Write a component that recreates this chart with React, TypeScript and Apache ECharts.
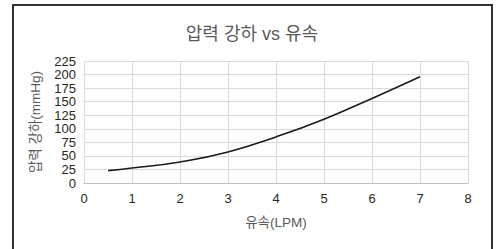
import React, { useEffect, useRef } from "react";
import * as echarts from "echarts";

const flowLPM = [0.5, 1, 2, 3, 4, 5, 6, 7];
const pressureDrop = [22.8, 27.7, 38.8, 57.3, 85, 117.7, 156, 196];
const titleText = "압력 강하 vs 유속";
const xName = "유속(LPM)";
const yName = "압력 강하(mmHg)";

const FONT = "'Liberation Sans', Arial, 'Noto Sans CJK KR', sans-serif";

export default function App() {
  const ref = useRef<HTMLDivElement>(null);
  useEffect(() => {
    if (!ref.current) return;
    const chart = echarts.init(ref.current, undefined, { renderer: "svg" });
    chart.setOption({
      animation: false,
      backgroundColor: "#ffffff",
      title: {
        text: titleText,
        left: 247,
        top: 20,
        textAlign: "center",
        textStyle: { fontFamily: FONT, fontSize: 18, fontWeight: "normal", color: "#595959" },
      },
      graphic: [
        {
          type: "rect",
          shape: { x: 13, y: 5, width: 479, height: 270 },
          style: { fill: "none", stroke: "#333333", lineWidth: 2 },
          silent: true,
        },
      ],
      grid: { left: 84, right: 30, top: 61, bottom: 66 },
      xAxis: {
        type: "value",
        min: 0,
        max: 8,
        interval: 1,
        name: xName,
        nameLocation: "middle",
        nameGap: 33,
        nameTextStyle: { fontFamily: FONT, fontSize: 13.5, color: "#595959" },
        axisLine: { show: true, lineStyle: { color: "#bfbfbf", width: 1 } },
        axisTick: { show: false },
        axisLabel: { fontFamily: FONT, fontSize: 13, color: "#262626", margin: 9 },
        splitLine: { show: true, lineStyle: { color: "#d9d9d9", width: 1 } },
      },
      yAxis: {
        type: "value",
        min: 0,
        max: 225,
        interval: 25,
        name: yName,
        nameLocation: "middle",
        nameGap: 42,
        nameTextStyle: { fontFamily: FONT, fontSize: 13.5, color: "#595959" },
        axisLine: { show: true, lineStyle: { color: "#d9d9d9", width: 1 } },
        axisTick: { show: false },
        axisLabel: { fontFamily: FONT, fontSize: 13, color: "#262626", margin: 8 },
        splitLine: { show: true, lineStyle: { color: "#d9d9d9", width: 1 } },
      },
      series: [
        {
          type: "line",
          data: flowLPM.map((x, i) => [x, pressureDrop[i]]),
          smooth: true,
          showSymbol: false,
          lineStyle: { color: "#1a1a1a", width: 1.6 },
        },
      ],
    });
    return () => chart.dispose();
  }, []);
  return (
    <div
      ref={ref}
      style={{ position: "absolute", left: 0, top: 0, width: 498, height: 249 }}
    />
  );
}
